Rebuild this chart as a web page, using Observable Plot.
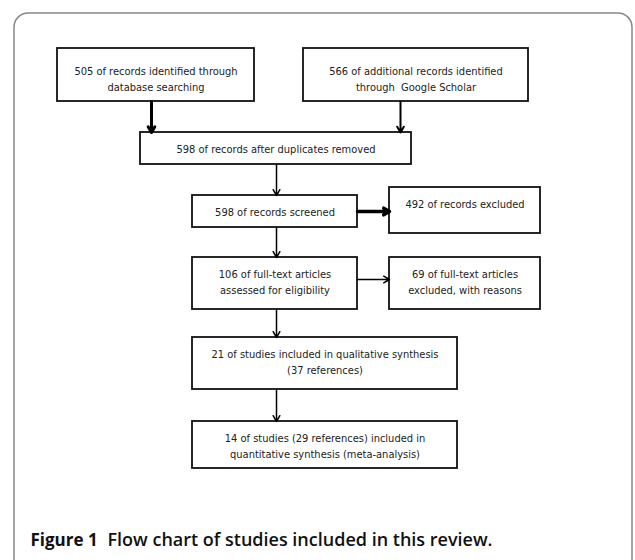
<!DOCTYPE html>
<html><head><meta charset="utf-8">
<script src="https://cdn.jsdelivr.net/npm/d3@7"></script>
<script src="https://cdn.jsdelivr.net/npm/@observablehq/plot@0.6"></script>
<style>body{margin:0;background:#fff}</style>
</head><body><div id="c"></div>
<script>
const labels = [
  "505 of records identified through\ndatabase searching",
  "566 of additional records identified\nthrough  Google Scholar",
  "598 of records after duplicates removed",
  "598 of records screened",
  "492 of records excluded",
  "106 of full-text articles\nassessed for eligibility",
  "69 of full-text articles\nexcluded, with reasons",
  "21 of studies included in qualitative synthesis\n(37 references)",
  "14 of studies (29 references) included in\nquantitative synthesis (meta-analysis)"
];
const boxX1 = [57,303,140,192,389,192,389,192,192];
const boxX2 = [254,528,411,357,540,357,540,457,457];
const boxY1 = [48,48,132,195,187,257,257,337,421];
const boxY2 = [101,101,164,227,233,309,309,389,468];
const textY = [63,63,141,204,196,266,266,346,430];
const links = [[0,2,151,3],[1,2,400,2],[2,3,276,1.5],[3,5,276,1.5],[5,7,276,1.5],[7,8,276,1.5]];
const sideLinks = [[3,4,211,3.5],[5,6,279,1.5]];
const caption = "Figure 1";
const captionRest = "Flow chart of studies included in this review.";

const boxes = labels.map((t,i)=>({t,x1:boxX1[i],x2:boxX2[i],y1:boxY1[i],y2:boxY2[i],ty:textY[i],cx:(boxX1[i]+boxX2[i])/2}));
const vArrows = links.map(([a,b,x,w])=>({x,y1:boxY2[a],y2:boxY1[b],w}));
const hArrows = sideLinks.map(([a,b,y,w])=>({y,x1:boxX2[a],x2:boxX1[b],w}));

const plot = Plot.plot({
  width:635,height:560,margin:0,
  x:{domain:[0,635],axis:null},y:{domain:[0,560],reverse:true,axis:null},
  marks:[
    Plot.rect([{}],{x1:14,x2:632,y1:13,y2:600,rx:14,fill:"none",stroke:"#888",strokeWidth:1.5}),
    Plot.rect(boxes,{x1:"x1",x2:"x2",y1:"y1",y2:"y2",fill:"white",stroke:"#111",strokeWidth:1.8}),
    Plot.text(boxes,{x:"cx",y:"ty",text:"t",lineAnchor:"top",lineHeight:1.45,fontSize:11,fontFamily:"DejaVu Sans Condensed, Liberation Sans Narrow, sans-serif",fill:"#222"}),
    Plot.arrow(vArrows,{x:"x",y1:"y1",y2:"y2",x1:"x",x2:"x",strokeWidth:"w",stroke:"#000",headLength:10,headAngle:60}),
    Plot.arrow(hArrows,{y:"y",x1:"x1",x2:"x2",y1:"y",y2:"y",strokeWidth:"w",stroke:"#000",headLength:10,headAngle:60}),
    Plot.text([caption],{x:30,y:540,text:d=>d,textAnchor:"start",fontSize:17,fontWeight:"bold",fontFamily:"Open Sans, sans-serif",fill:"#111"}),
    Plot.text([captionRest],{x:107,y:540,text:d=>d,textAnchor:"start",fontSize:18,fontWeight:600,fontFamily:"Open Sans, sans-serif",fill:"#111"})
  ]
});
document.getElementById("c").appendChild(plot);
</script></body></html>
